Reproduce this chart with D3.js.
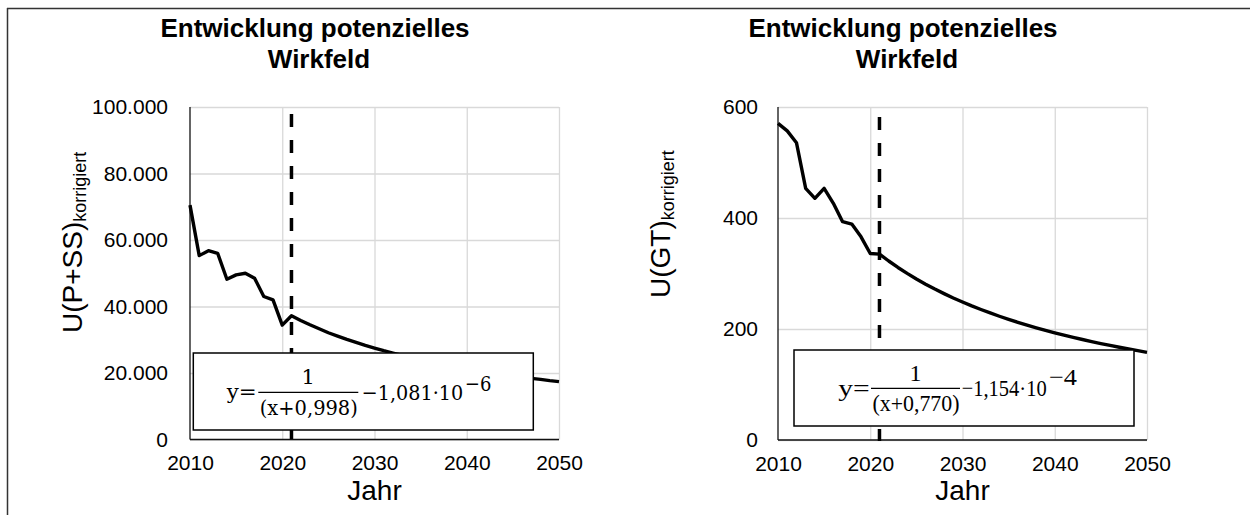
<!DOCTYPE html>
<html>
<head>
<meta charset="utf-8">
<script src="https://cdn.jsdelivr.net/npm/d3@7"></script>
<style>
  html, body { margin: 0; padding: 0; background: #ffffff; }
  svg { display: block; }
</style>
</head>
<body>
<svg id="chart" width="1250" height="515"></svg>
<script>
// ---------------- DATA ----------------
const years = [2010,2011,2012,2013,2014,2015,2016,2017,2018,2019,2020,2021,
  2022,2023,2024,2025,2026,2027,2028,2029,2030,2031,2032,2033,2034,2035,2036,
  2037,2038,2039,2040,2041,2042,2043,2044,2045,2046,2047,2048,2049,2050];

// Left panel: U(P+SS) korrigiert
const valuesPSS = [70500,55300,56800,56000,48200,49500,50000,48500,43000,42000,34400,37200,
  35800,34500,33300,32100,31100,30100,29200,28300,27500,26700,26000,25300,24600,24000,
  23400,22800,22300,21800,21300,20800,20400,20000,19500,19200,18800,18400,18100,17700,17400];

// Right panel: U(GT) korrigiert
const valuesGT = [570.6,557,535.7,453.5,435.5,453.5,426.5,393.3,389,366,336,335,
  322.5,310.9,300.2,290.1,280.7,271.9,263.7,255.9,248.6,241.6,235.1,228.9,223.0,217.4,
  212.1,207.0,202.2,197.6,193.2,189.0,185.0,181.1,177.4,173.8,170.4,167.1,164.0,160.9,158.0];

const xTicks = [2010,2020,2030,2040,2050];
const yTicksPSS = [0,20000,40000,60000,80000,100000];
const yTicksGT = [0,200,400,600];
const markerYear = [2021];

const titleLines = ["Entwicklung potenzielles","Wirkfeld"];
const xTitle = "Jahr";
const yTitlePSS = ["U(P+SS)","korrigiert"];
const yTitleGT = ["U(GT)","korrigiert"];
const formulaPSS = {y:"y=", num:"1", den:"(x+0,998)", rest:"\u22121,081\u00B710", exp:"\u22126"};
const formulaGT  = {y:"y=", num:"1", den:"(x+0,770)", rest:"\u22121,154\u00B710", exp:"\u22124"};

// ---------------- DRAW ----------------
const svg = d3.select("#chart");
const de = d3.formatLocale({decimal:",", thousands:".", grouping:[3], currency:["","\u20AC"]});
const fmt = de.format(",.0f");

// outer frame (left + top edges)
svg.append("line").attr("x1",7.5).attr("y1",8).attr("x2",7.5).attr("y2",515)
  .attr("stroke","#333").attr("stroke-width",1.5);
svg.append("line").attr("x1",7).attr("y1",8.5).attr("x2",1250).attr("y2",8.5)
  .attr("stroke","#333").attr("stroke-width",1.5);

function panel(cfg){
  const x = d3.scaleLinear().domain([2010,2050]).range([cfg.x0, cfg.x0 + 369]);
  const y = d3.scaleLinear().domain([0, cfg.yMax]).range([cfg.yBottom, 107]);
  const g = svg.append("g");

  // title
  const t = g.append("text").attr("text-anchor","middle")
    .attr("font-family","Liberation Sans, Arial, sans-serif")
    .attr("font-weight","bold").attr("font-size",26).attr("fill","#000");
  t.append("tspan").attr("x", cfg.x0 + 125).attr("y", 36.5).text(titleLines[0]);
  t.append("tspan").attr("x", cfg.x0 + 129).attr("y", 68).text(titleLines[1]);

  // horizontal gridlines
  g.append("g").attr("transform",`translate(${cfg.x0},0)`)
    .call(d3.axisLeft(y).tickValues(cfg.yTicks).tickSize(-369).tickFormat(""))
    .call(s => s.select(".domain").remove())
    .call(s => s.selectAll("line").attr("stroke","#d9d9d9").attr("stroke-width",1.3));
  // vertical gridlines
  g.append("g").attr("transform",`translate(0,${cfg.yBottom})`)
    .call(d3.axisBottom(x).tickValues(xTicks.slice(1)).tickSize(-(cfg.yBottom-107)).tickFormat(""))
    .call(s => s.select(".domain").remove())
    .call(s => s.selectAll("line").attr("stroke","#d9d9d9").attr("stroke-width",1.3));

  // y axis labels
  const ya = g.append("g").attr("transform",`translate(${cfg.x0},0)`)
    .call(d3.axisLeft(y).tickValues(cfg.yTicks).tickSize(0).tickPadding(cfg.yPad).tickFormat(fmt));
  ya.select(".domain").remove();
  ya.selectAll("text").attr("font-family","Liberation Sans, Arial, sans-serif")
    .attr("font-size",21).attr("fill","#000");

  // x axis labels
  const xa = g.append("g").attr("transform",`translate(0,${cfg.yBottom})`)
    .call(d3.axisBottom(x).tickValues(xTicks).tickSize(0).tickPadding(16).tickFormat(d3.format("d")));
  xa.select(".domain").remove();
  xa.selectAll("text").attr("font-family","Liberation Sans, Arial, sans-serif")
    .attr("font-size",21).attr("fill","#000");

  // axis lines
  g.append("line").attr("x1",cfg.x0).attr("x2",cfg.x0).attr("y1",107).attr("y2",cfg.yBottom)
    .attr("stroke","#111").attr("stroke-width",1.3);
  g.append("line").attr("x1",cfg.x0).attr("x2",cfg.x0+369).attr("y1",cfg.yBottom).attr("y2",cfg.yBottom)
    .attr("stroke","#111").attr("stroke-width",1.5);

  // axis titles
  g.append("text").attr("x", x(2030)).attr("y", 500).attr("text-anchor","middle")
    .attr("font-family","Liberation Sans, Arial, sans-serif").attr("font-size",28).attr("fill","#000")
    .text(xTitle);
  const yt = g.append("text")
    .attr("transform",`translate(${cfg.x0 - 108},${cfg.yTitleStart}) rotate(-90)`)
    .attr("font-family","Liberation Sans, Arial, sans-serif").attr("font-size",28).attr("fill","#000");
  yt.append("tspan").text(cfg.yTitle[0]);
  yt.append("tspan").attr("font-size",18).attr("dy",4).text(cfg.yTitle[1]);

  // marker line
  g.selectAll(".marker").data(markerYear).enter().append("line")
    .attr("x1", d => x(d)).attr("x2", d => x(d))
    .attr("y1", cfg.markTop).attr("y2", 441)
    .attr("stroke","#000").attr("stroke-width",3.5).attr("stroke-dasharray","13,13");

  // data line
  const line = d3.line().x((d,i) => x(years[i])).y(d => y(d));
  g.append("path").datum(cfg.values).attr("d", line).attr("fill","none")
    .attr("stroke","#000").attr("stroke-width",3.4).attr("stroke-linejoin","round");

  // formula box
  const b = cfg.box;
  g.append("rect").attr("x",b.x).attr("y",b.y).attr("width",b.w).attr("height",b.h)
    .attr("fill","#fff").attr("stroke","#000").attr("stroke-width",1.5);
  const f = cfg.formula, L = cfg.fl;
  const ft = (txt, xx, yy, w) => g.append("text").attr("x",xx).attr("y",yy)
    .attr("font-family",L.font).attr("font-size",L.size)
    .attr("textLength", w).attr("lengthAdjust","spacingAndGlyphs")
    .attr("fill","#000").text(txt);
  ft(f.y, L.yx, L.yb, L.yw);
  g.append("line").attr("x1",L.barX1).attr("x2",L.barX2).attr("y1",L.barY).attr("y2",L.barY)
    .attr("stroke","#000").attr("stroke-width",1.2);
  g.append("text").attr("x",(L.barX1+L.barX2)/2).attr("y",L.numB).attr("text-anchor","middle")
    .attr("font-family",L.font).attr("font-size",L.size).attr("fill","#000").text(f.num);
  ft(f.den, L.barX1 + 1.5, L.denB, L.barX2 - L.barX1 - 2);
  // rest + exponent in one text element
  const rt = g.append("text").attr("font-family",L.font).attr("font-size",L.size).attr("fill","#000");
  rt.append("tspan").attr("x",L.restX).attr("y",L.restB)
    .attr("textLength",L.restW).attr("lengthAdjust","spacingAndGlyphs").text(f.rest);
  rt.append("tspan").attr("x",L.expX).attr("y",L.expB)
    .attr("textLength",L.expW).attr("lengthAdjust","spacingAndGlyphs").text(f.exp);
}

panel({
  x0:190, yBottom:439.5, yMax:100000, yTicks:yTicksPSS, values:valuesPSS, yPad:22,
  yTitle:yTitlePSS, yTitleStart:333, markTop:114,
  box:{x:193.3, y:353, w:340, h:77},
  formula:formulaPSS,
  fl:{font:"DejaVu Serif, serif", size:21, yx:226.7, yw:30, yb:399, barX1:258.3, barX2:358.3, barY:392.3,
      numB:384, denB:415, restX:361.7, restW:101.5, restB:400, expX:465, expW:26.5, expB:391}
});

panel({
  x0:778, yBottom:440, yMax:600, yTicks:yTicksGT, values:valuesGT, yPad:20,
  yTitle:yTitleGT, yTitleStart:298, markTop:117,
  box:{x:794, y:350, w:340, h:76},
  formula:formulaGT,
  fl:{font:"Liberation Serif, Times New Roman, serif", size:24, yx:838.3, yw:31.5, yb:396, barX1:871, barX2:960, barY:388.3,
      numB:381, denB:411, restX:961.7, restW:85, restB:396, expX:1049, expW:28, expB:385}
});
</script>
</body>
</html>
